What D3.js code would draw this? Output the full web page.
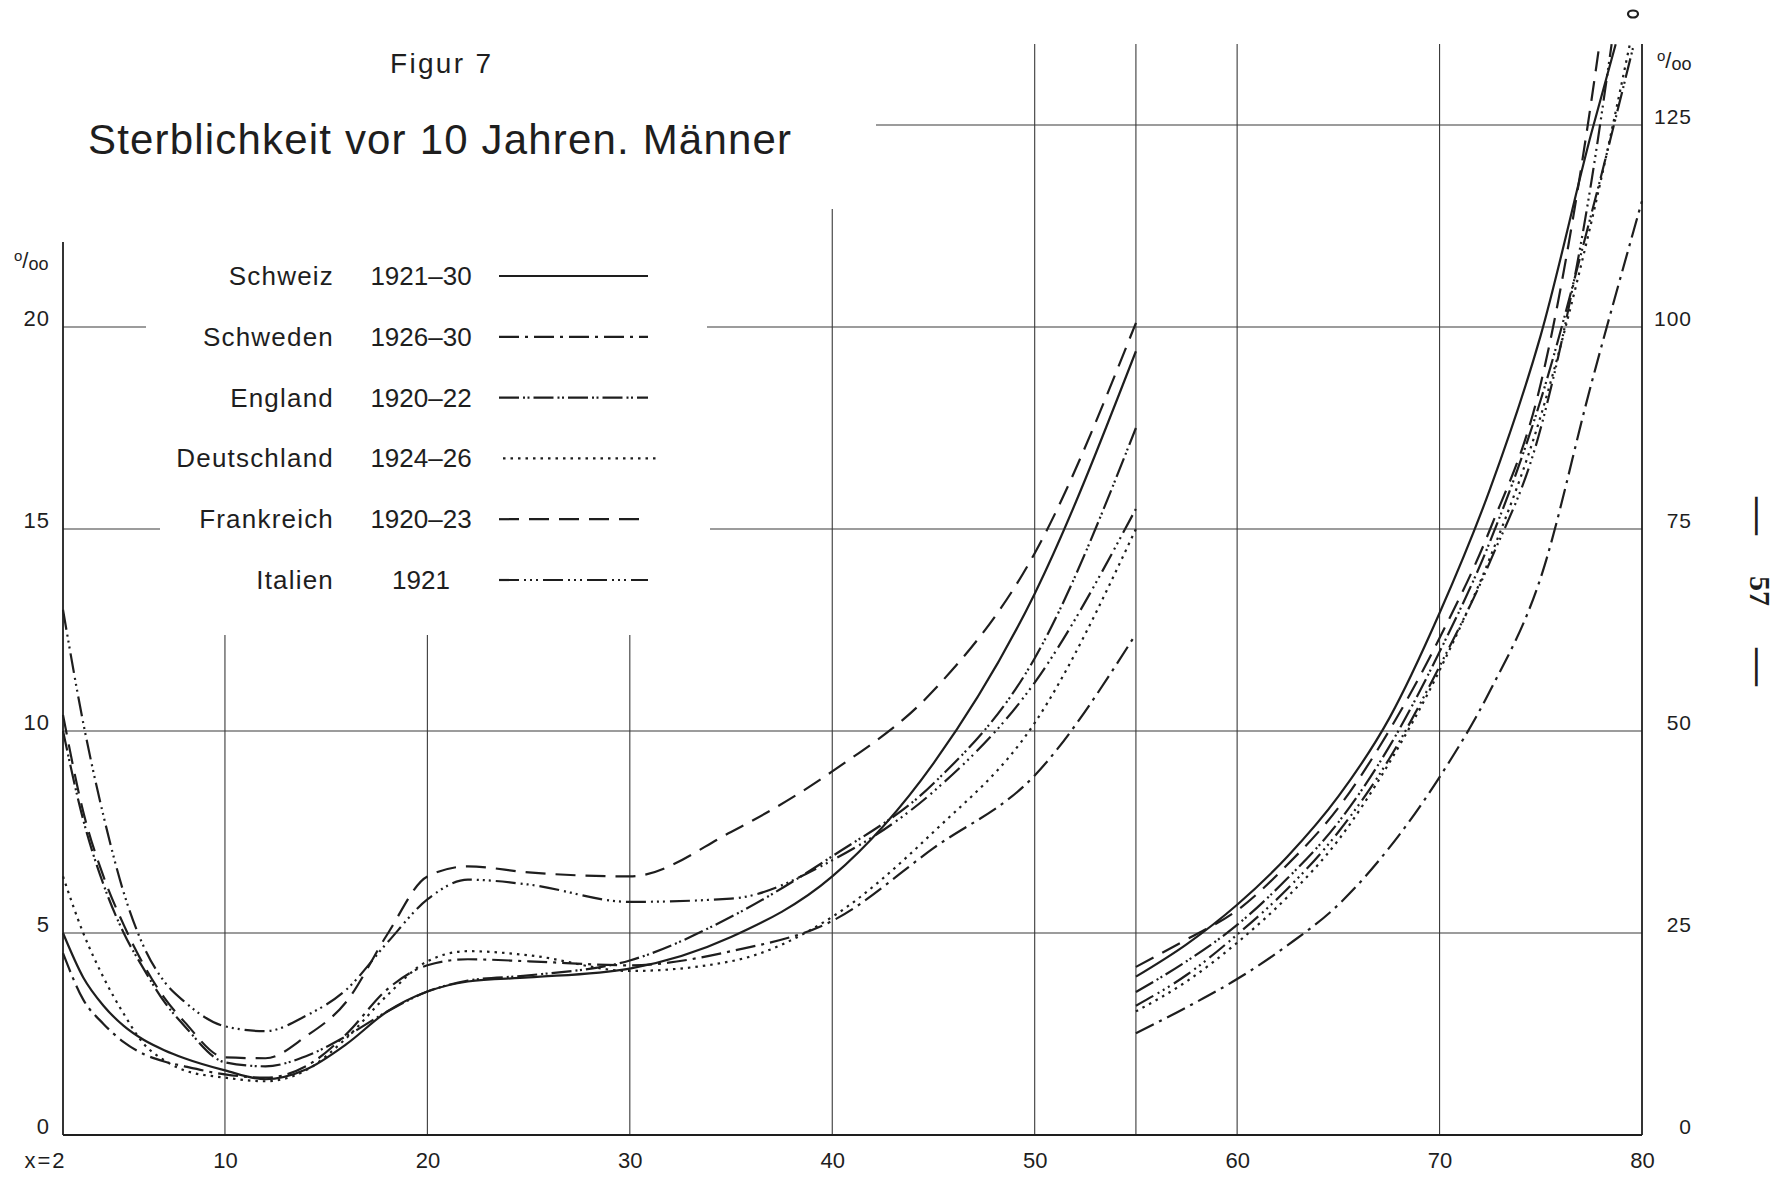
<!DOCTYPE html>
<html>
<head>
<meta charset="utf-8">
<script src="https://cdn.jsdelivr.net/npm/d3@7"></script>
<style>
    body { margin: 0; background: #fff; }
    svg text { font-family: "Liberation Sans", Arial, sans-serif; fill: #1e1e1e; }
</style>
</head>
<body>
<div id="chart"></div>
<script>
// Länder und Zeiträume
const countries = ["Schweiz", "Schweden", "England", "Deutschland", "Frankreich", "Italien"];
const periods = ["1921–30", "1926–30", "1920–22", "1924–26", "1920–23", "1921"];

// Alter x (linker Teil, Massstab 0–20 ‰)
const ageLeft = [2, 3, 4, 5, 6, 7, 8, 10, 12, 14, 16, 18, 20, 22, 25, 30, 35, 40, 45, 50, 55];
const schweizLeft     = [5.0, 3.9, 3.2, 2.7, 2.35, 2.1, 1.9, 1.6, 1.38, 1.62, 2.25, 3.05, 3.55, 3.8, 3.9, 4.12, 4.9, 6.4, 9.2, 13.4, 19.4];
const schwedenLeft    = [4.5, 3.35, 2.75, 2.3, 2.0, 1.82, 1.7, 1.5, 1.42, 1.7, 2.5, 3.6, 4.2, 4.35, 4.3, 4.2, 4.55, 5.3, 7.1, 8.9, 12.4];
const englandLeft     = [10.0, 7.8, 6.2, 5.0, 4.1, 3.3, 2.7, 1.8, 1.7, 1.95, 2.45, 3.05, 3.55, 3.82, 3.95, 4.32, 5.4, 6.9, 8.7, 11.8, 17.5];
const deutschlandLeft = [6.4, 5.0, 3.9, 3.0, 2.25, 1.85, 1.6, 1.42, 1.33, 1.6, 2.4, 3.45, 4.3, 4.55, 4.45, 4.06, 4.3, 5.4, 7.5, 10.2, 15.0];
const frankreichLeft  = [10.4, 8.0, 6.4, 5.2, 4.2, 3.4, 2.8, 1.92, 1.9, 2.44, 3.3, 4.95, 6.4, 6.65, 6.5, 6.4, 7.5, 9.0, 11.0, 14.4, 20.1];
const italienLeft     = [13.0, 10.2, 7.9, 6.0, 4.65, 3.8, 3.3, 2.69, 2.57, 2.95, 3.6, 4.75, 5.83, 6.32, 6.2, 5.77, 5.85, 6.8, 8.5, 11.2, 15.5];

// Alter x (rechter Teil, Massstab 0–125 ‰)
const ageRight = [55, 57.5, 60, 62.5, 65, 67.5, 70, 72.5, 75, 77.5];
const schweizRight     = [19.6, 23.6, 28.5, 34.5, 41.9, 51.5, 64.6, 80, 99, 124];
const schwedenRight    = [12.6, 15.8, 19.3, 23.5, 28.5, 35.5, 44.3, 55, 69, 93];
const englandRight     = [17.7, 21.5, 26, 31.8, 38.7, 48, 59.8, 73.5, 91, 114];
const deutschlandRight = [15.3, 19, 23.8, 29.5, 36.5, 46, 57.5, 71.5, 89, 113];
const frankreichRight  = [20.8, 24.2, 27.8, 33.5, 40.5, 50, 61.5, 75, 93, 128];
const italienRight     = [16.0, 19.8, 24.8, 30.5, 37.5, 46.5, 58, 71, 87.5, 118];
// letzter Punkt jeder Kurve (wo sie oben austritt), in Reihenfolge der Länder
const lastAge   = [78.7, 80, 79.6, 79.4, 77.9, 78.5];
const lastValue = [135, 115.6, 135, 135, 135, 135];

// Achsenbeschriftungen
const xTicks = [2, 10, 20, 30, 40, 50, 60, 70, 80];
const leftTicks = [0, 5, 10, 15, 20];
const rightTicks = [0, 25, 50, 75, 100, 125];

const leftSeries = [schweizLeft, schwedenLeft, englandLeft, deutschlandLeft, frankreichLeft, italienLeft];
const rightSeries = [schweizRight, schwedenRight, englandRight, deutschlandRight, frankreichRight, italienRight];

// Linienarten
const dashes = {
    "Schweiz": null,
    "Schweden": "20 6 3 6",
    "England": "20 4 2 2.5 2 4",
    "Deutschland": "2.5 5",
    "Frankreich": "20 10",
    "Italien": "20 5 2 4 2 4 2 5"
};

const width = 1789;
const height = 1178;
const ink = '#1e1e1e';

const svg = d3.select('#chart').append('svg')
    .attr('width', width)
    .attr('height', height)
    .style('background', '#fff');

// Skalen
const x = d3.scaleLinear().domain([2, 80]).range([63, 1642]);
const yLeft = d3.scaleLinear().domain([0, 20]).range([1135, 327]);
const yRight = d3.scaleLinear().domain([0, 100]).range([1135, 327]);

// Gitter (teilweise Linien wie im Original)
const grid = svg.append('g').attr('stroke', '#3a3a3a').attr('stroke-width', 1.1);
const vLines = [
    {age: 10, top: 635}, {age: 20, top: 635}, {age: 30, top: 635},
    {age: 40, top: 209}, {age: 50, top: 44}, {age: 55, top: 44},
    {age: 60, top: 44}, {age: 70, top: 44}
];
grid.selectAll('.vline').data(vLines).enter().append('line')
    .attr('x1', d => x(d.age)).attr('x2', d => x(d.age))
    .attr('y1', d => d.top).attr('y2', yLeft(0));

const hLines = [
    {v: 20, from: 63, to: 146}, {v: 20, from: 707, to: 1642},
    {v: 15, from: 63, to: 160}, {v: 15, from: 710, to: 1642},
    {v: 10, from: 63, to: 1642}, {v: 5, from: 63, to: 1642}
];
grid.selectAll('.hline').data(hLines).enter().append('line')
    .attr('x1', d => d.from).attr('x2', d => d.to)
    .attr('y1', d => yLeft(d.v)).attr('y2', d => yLeft(d.v));
grid.append('line')
    .attr('x1', 876).attr('x2', x(80))
    .attr('y1', yRight(125)).attr('y2', yRight(125));

// Hauptachsen
const axes = svg.append('g').attr('stroke', ink).attr('stroke-width', 1.8);
axes.append('line').attr('x1', x(2)).attr('x2', x(2)).attr('y1', 242).attr('y2', yLeft(0));
axes.append('line').attr('x1', x(80)).attr('x2', x(80)).attr('y1', 44).attr('y2', yLeft(0));
axes.append('line').attr('x1', x(2)).attr('x2', x(80)).attr('y1', yLeft(0)).attr('y2', yLeft(0));

// Achsen-Beschriftungen mit d3-Achsen
const xAxis = svg.append('g')
    .attr('transform', `translate(0,${yLeft(0)})`)
    .call(d3.axisBottom(x).tickValues(xTicks).tickSize(0).tickPadding(17)
        .tickFormat(d => d === 2 ? 'x=2' : d));
xAxis.select('.domain').remove();
xAxis.selectAll('text')
    .style('font-size', '22px')
    .attr('fill', ink);
xAxis.selectAll('text').filter(d => d === 2)
    .attr('text-anchor', 'end')
    .attr('x', 3)
    .style('letter-spacing', '2px');

const leftAxis = svg.append('g')
    .attr('transform', `translate(${x(2)},0)`)
    .call(d3.axisLeft(yLeft).tickValues(leftTicks).tickSize(0).tickPadding(13));
leftAxis.select('.domain').remove();
leftAxis.selectAll('text')
    .attr('dy', '-0.05em')
    .style('font-size', '22px')
    .style('letter-spacing', '1px')
    .attr('fill', ink);

const rightAxis = svg.append('g')
    .attr('transform', `translate(${x(80)},0)`)
    .call(d3.axisRight(yRight).tickValues(rightTicks).tickSize(0).tickPadding(50));
rightAxis.select('.domain').remove();
rightAxis.selectAll('text')
    .attr('text-anchor', 'end')
    .attr('dy', '-0.05em')
    .style('font-size', '21px')
    .style('letter-spacing', '1px')
    .attr('fill', ink);

// Promille-Zeichen
function permille(px, py) {
    const t = svg.append('text').attr('x', px).attr('y', py).style('font-size', '22px');
    t.append('tspan').text('o').style('font-size', '15px').attr('dy', -7);
    t.append('tspan').text('/').attr('dy', 7);
    t.append('tspan').text('oo').style('font-size', '18px').attr('dy', 2);
}
permille(14, 268);
permille(1657, 68);

// Titel
svg.append('text')
    .attr('x', 390).attr('y', 73)
    .attr('textLength', 101)
    .style('font-size', '28px')
    .text('Figur 7');
svg.append('text')
    .attr('x', 88).attr('y', 154)
    .attr('textLength', 703)
    .style('font-size', '42px')
    .text('Sterblichkeit vor 10 Jahren. Männer');

// Kurven
const line = (yScale) => d3.line()
    .x(d => x(d[0]))
    .y(d => yScale(d[1]))
    .curve(d3.curveMonotoneX);

const curves = svg.append('g')
    .attr('fill', 'none')
    .attr('stroke', ink)
    .attr('stroke-width', 2.2);

countries.forEach((c, i) => {
    const left = ageLeft.map((a, j) => [a, leftSeries[i][j]]);
    const right = ageRight.map((a, j) => [a, rightSeries[i][j]]);
    right.push([lastAge[i], lastValue[i]]);
    curves.append('path')
        .attr('d', line(yLeft)(left))
        .attr('stroke-dasharray', dashes[c]);
    curves.append('path')
        .attr('d', line(yRight)(right))
        .attr('stroke-dasharray', dashes[c]);
});

// Legende
const legendY = d3.scaleLinear().domain([0, 5]).range([276, 580]);
const legend = svg.append('g');
legend.selectAll('.lg-name').data(countries).enter().append('text')
    .attr('x', 334)
    .attr('y', (d, i) => legendY(i) + 9)
    .attr('text-anchor', 'end')
    .style('font-size', '26px')
    .style('letter-spacing', '1.2px')
    .text(d => d);
legend.selectAll('.lg-period').data(periods).enter().append('text')
    .attr('x', 421)
    .attr('y', (d, i) => legendY(i) + 9)
    .attr('text-anchor', 'middle')
    .style('font-size', '26px')
    .text(d => d);
legend.selectAll('.lg-line').data(countries).enter().append('line')
    .attr('x1', d => d === 'Deutschland' ? 503 : 499)
    .attr('x2', d => d === 'Deutschland' ? 656 : 648)
    .attr('y1', (d, i) => legendY(i))
    .attr('y2', (d, i) => legendY(i))
    .attr('stroke', ink)
    .attr('stroke-width', 2.2)
    .attr('stroke-dasharray', d => dashes[d]);

// kleiner Kreis oben rechts
svg.append('ellipse')
    .attr('cx', 1633).attr('cy', 14).attr('rx', 5).attr('ry', 3.5)
    .attr('fill', 'none').attr('stroke', ink).attr('stroke-width', 2.2);

// Seitenzahl (gedreht)
const pageNo = [
    {t: '—', y: 516, size: 38},
    {t: '57', y: 591, size: 30},
    {t: '—', y: 667, size: 38}
];
svg.selectAll('.page-no').data(pageNo).enter().append('text')
    .attr('transform', d => `translate(1760,${d.y}) rotate(90)`)
    .attr('text-anchor', 'middle')
    .attr('dominant-baseline', 'central')
    .style('font-family', '"Liberation Serif", serif')
    .style('font-weight', 'bold')
    .style('font-size', d => d.size + 'px')
    .text(d => d.t);
</script>
</body>
</html>
